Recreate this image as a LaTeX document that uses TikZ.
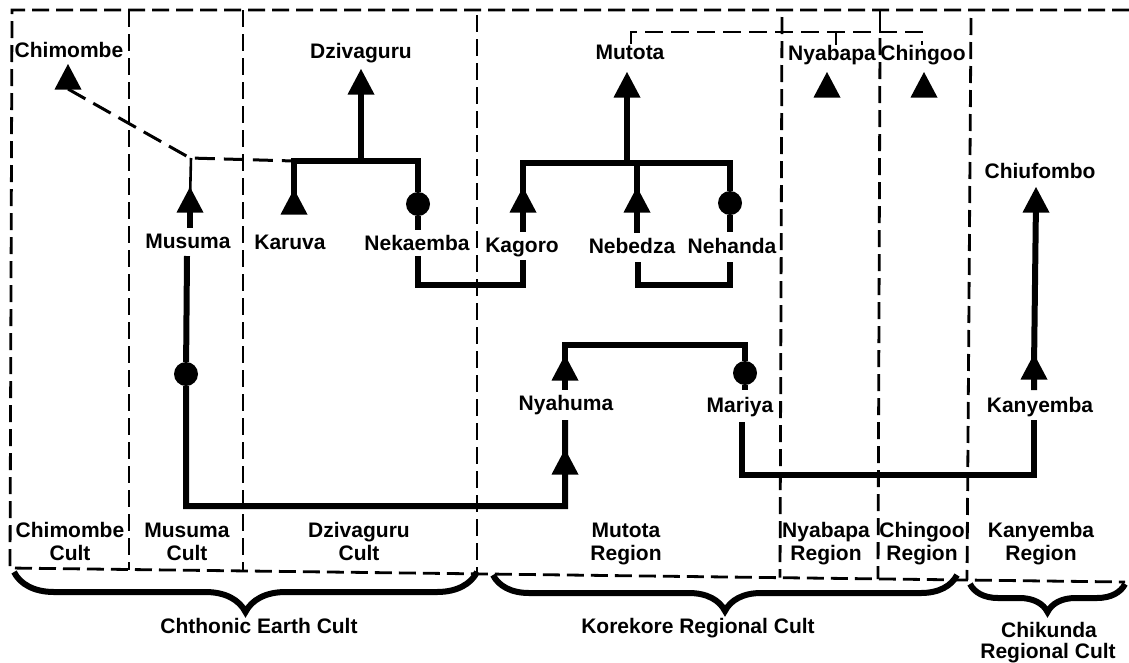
\documentclass[tikz,border=0pt]{standalone}
\usepackage{fontspec}
\setmainfont{Liberation Sans}
\usetikzlibrary{decorations.pathreplacing}
\tikzset{
 lbl/.style={font=\fontsize{21}{24}\selectfont\bfseries, inner sep=0pt, anchor=base},
 kin/.style={line width=6pt},
 thinl/.style={line width=2.6pt},
 bound/.style={line width=2.8pt, dash pattern=on 17pt off 7pt},
 dlink/.style={line width=3pt, dash pattern=on 20pt off 9pt},
 fem/.style={circle, fill=black, minimum size=24pt, inner sep=0pt},
 brc/.style={decorate, decoration={brace, mirror, amplitude=#1}, line width=6pt},
}
\newcommand{\tri}[3]{\coordinate (#1) at (#2,#3); \fill (#1) ++(-13.5,12.5) -- ++(13.5,-25.5) -- ++(13.5,25.5) -- cycle;}
\begin{document}
\begin{tikzpicture}[x=1pt,y=-1pt]
\useasboundingbox[fill=white] (0,0) rectangle (1129,662);

% ---------- frame and dividers ----------
\draw[bound] (1129,10) -- (12,10) -- (10,568) -- (1125,582);
\draw[bound] (129,10) -- (129,569.5);
\draw[bound] (243,10) -- (243,571);
\draw[bound] (477,15) -- (477,574);
\draw[bound] (782,17) -- (780,577.5);
\draw[bound] (880,38) -- (878,579);
\draw[bound] (971,18) -- (967,580);

% ---------- braces ----------
\coordinate (b1a) at (14,572); \coordinate (b1b) at (477,572);
\coordinate (b2a) at (493,575); \coordinate (b2b) at (957,575);
\coordinate (b3a) at (970,584); \coordinate (b3b) at (1125,584);
\draw[brc=40pt] (b1a) -- (b1b);
\draw[brc=36pt] (b2a) -- (b2b);
\draw[brc=28pt] (b3a) -- (b3b);

% ---------- labels ----------
\node[lbl] (lChimombe) at (69,57) {Chimombe};
\node[lbl] (lDziva) at (361,58) {Dzivaguru};
\node[lbl] (lMutota) at (630,59) {Mutota};
\node[lbl] (lNyabapa) at (832,60) {Nyabapa};
\node[lbl] (lChingoo) at (923,60) {Chingoo};
\node[lbl] (lChiuf) at (1040,178) {Chiufombo};
\node[lbl] (lMusuma) at (188,248) {Musuma};
\node[lbl] (lKaruva) at (290,249) {Karuva};
\node[lbl] (lNekaemba) at (417,250) {Nekaemba};
\node[lbl] (lKagoro) at (522,252) {Kagoro};
\node[lbl] (lNebedza) at (632,253) {Nebedza};
\node[lbl] (lNehanda) at (732,253) {Nehanda};
\node[lbl] (lNyahuma) at (566,410) {Nyahuma};
\node[lbl] (lMariya) at (740,412) {Mariya};
\node[lbl] (lKanyemba) at (1040,412) {Kanyemba};

\node[lbl] (rChim1) at (70,537) {Chimombe};
\node[lbl] (rChim2) at (70,560) {Cult};
\node[lbl] (rMus1) at (187,537) {Musuma};
\node[lbl] (rMus2) at (187,560) {Cult};
\node[lbl] (rDz1) at (359,537) {Dzivaguru};
\node[lbl] (rDz2) at (359,560) {Cult};
\node[lbl] (rMu1) at (626,537) {Mutota};
\node[lbl] (rMu2) at (626,560) {Region};
\node[lbl] (rNy1) at (826,537) {Nyabapa};
\node[lbl] (rNy2) at (826,560) {Region};
\node[lbl] (rCh1) at (922,537) {Chingoo};
\node[lbl] (rCh2) at (922,560) {Region};
\node[lbl] (rKa1) at (1041,537) {Kanyemba};
\node[lbl] (rKa2) at (1041,560) {Region};

\node[lbl] (gChth) at (259,633) {Chthonic Earth Cult};
\node[lbl] (gKore) at (698,633) {Korekore Regional Cult};
\node[lbl] (gChik1) at (1049,637) {Chikunda};
\node[lbl] (gChik2) at (1048,658) {Regional Cult};

% ---------- triangles (males) ----------
\tri{tChimombe}{68}{77}
\tri{tDziva}{361}{82}
\tri{tMutota}{627}{85}
\tri{tNyabapa}{827}{85}
\tri{tChingoo}{924}{85}
\tri{tChiuf}{1036}{200}
\tri{tMusuma}{190}{200}
\tri{tKaruva}{294}{202}
\tri{tKagoro}{523}{200}
\tri{tNebedza}{637}{200}
\tri{tNyahU}{565}{368}
\tri{tNyahL}{565}{462}
\tri{tKanyemba}{1034}{367}

% ---------- junction coordinates ----------
\coordinate (jD) at (361,161);
\coordinate (jKar) at (294,161);
\coordinate (jNek) at (418,161);
\coordinate (jM) at (627,163);
\coordinate (jKag) at (523,163);
\coordinate (jNeb) at (637,163);
\coordinate (jNeh) at (730,163);
\coordinate (nekB) at (418,230);
\coordinate (nekL) at (418,256);
\coordinate (nekC) at (418,285);
\coordinate (kagB) at (523,232);
\coordinate (kagL) at (523,260);
\coordinate (kagC) at (523,285);
\coordinate (nebB) at (637,233);
\coordinate (nebL) at (638,262);
\coordinate (nebC) at (638,285);
\coordinate (nehB) at (730,232);
\coordinate (nehL) at (730,262);
\coordinate (nehC) at (730,285);
\coordinate (musT) at (191,158);
\coordinate (musB) at (190,228);
\coordinate (musL) at (187,256);
\coordinate (musC) at (186,506);
\coordinate (nyaC) at (565,506);
\coordinate (nyaL) at (565,420);
\coordinate (nyaB) at (565,390);
\coordinate (nyaT) at (565,345);
\coordinate (marT) at (745,345);
\coordinate (marB) at (745,390);
\coordinate (marL) at (742,422);
\coordinate (marC) at (742,475);
\coordinate (kanC) at (1034,475);
\coordinate (kanL) at (1034,420);
\coordinate (kanB) at (1034,390);
\coordinate (chimB) at (190,158);
\coordinate (brM) at (631,44);
\coordinate (brMt) at (631,32);
\coordinate (brC) at (922,32);
\coordinate (brCb) at (922,45);
\coordinate (brN) at (836,32);
\coordinate (brNb) at (836,45);
\coordinate (brX) at (880,32);
\coordinate (brXt) at (880,10);

% ---------- females ----------
\node[fem] (cNek) at (418,204) {};
\node[fem] (cNeh) at (730,203) {};
\node[fem] (cMus) at (186,374) {};
\node[fem] (cMar) at (745,373) {};

% ---------- kin lines ----------
\draw[kin] (tDziva) -- (jD);
\draw[kin] (tKaruva) -- (jKar) -- (jNek) -- (cNek) -- (nekB);
\draw[kin] (nekL) -- (nekC) -- (kagC) -- (kagL);
\draw[kin] (tMutota) -- (jM);
\draw[kin] (tKagoro) -- (jKag) -- (jNeh) -- (cNeh) -- (nehB);
\draw[kin] (tKagoro) -- (kagB);
\draw[kin] (jNeb) -- (tNebedza) -- (nebB);
\draw[kin] (nebL) -- (nebC) -- (nehC) -- (nehL);
\draw[kin] (tMusuma) -- (musB);
\draw[thinl] (musT) -- (tMusuma);
\draw[kin] (musL) -- (cMus) -- (musC) -- (nyaC) -- (tNyahL) -- (nyaL);
\draw[kin] (tNyahU) -- (nyaB);
\draw[kin] (tNyahU) -- (nyaT) -- (marT) -- (cMar) -- (marB);
\draw[kin] (marL) -- (marC) -- (kanC) -- (kanL);
\draw[kin] (kanB) -- (tKanyemba) -- (tChiuf);

% dashed link Chimombe -> Karuva line
\draw[dlink] (tChimombe) ++(0,12) -- (chimB) -- (jKar);

% top bracket
\draw[thinl, dash pattern=on 18pt off 8pt] (brM) -- (brMt) -- (brC) -- (brCb);
\draw[thinl] (brN) -- (brNb);
\draw[thinl] (brXt) -- (brX);
\end{tikzpicture}
\end{document}
